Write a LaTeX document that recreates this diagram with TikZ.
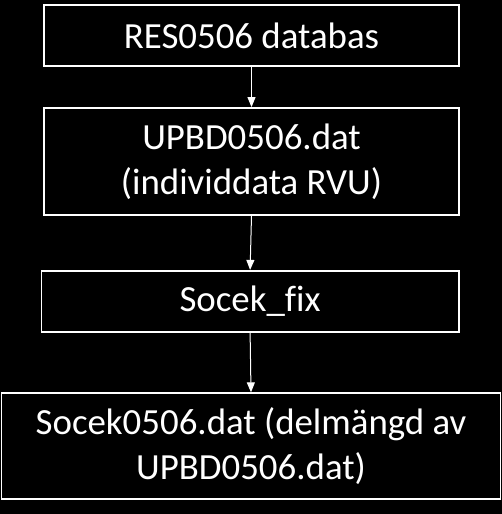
\documentclass[tikz,border=0pt]{standalone}
\usepackage{fontspec}
\setmainfont{Carlito}[Ligatures=NoCommon]
\usetikzlibrary{arrows.meta}
\begin{document}
\begin{tikzpicture}[x=1bp,y=-1bp,
  box/.style={draw=white,line width=1.8bp,text=white,inner sep=0pt,align=center,
    font=\fontsize{37}{45}\selectfont},
  conn/.style={draw=white,line width=1bp,-{Triangle[width=8bp,length=10bp]}}]
\fill[black] (0,0) rectangle (502,514);
\useasboundingbox (0,0) rectangle (502,514);
\node[box,minimum width=415bp,minimum height=61bp] (b1) at (251.5,35.5) {RES0506 databas};
\node[box,minimum width=415bp,minimum height=107bp] (b2) at (251.5,161.5) {UPBD0506.dat\\(individdata RVU)};
\node[box,minimum width=417bp,minimum height=61bp] (b3) at (250.1,301.3) {Socek\_f{}ix};
\node[box,minimum width=499bp,minimum height=105.5bp] (b4) at (251,446) {Socek0506.dat (delmängd av\\UPBD0506.dat)};
\draw[conn] (b1.south) -- (b2.north);
\draw[conn] (b2.south) -- (b3.north);
\draw[conn] (b3.south) -- (b4.north);
\end{tikzpicture}
\end{document}
